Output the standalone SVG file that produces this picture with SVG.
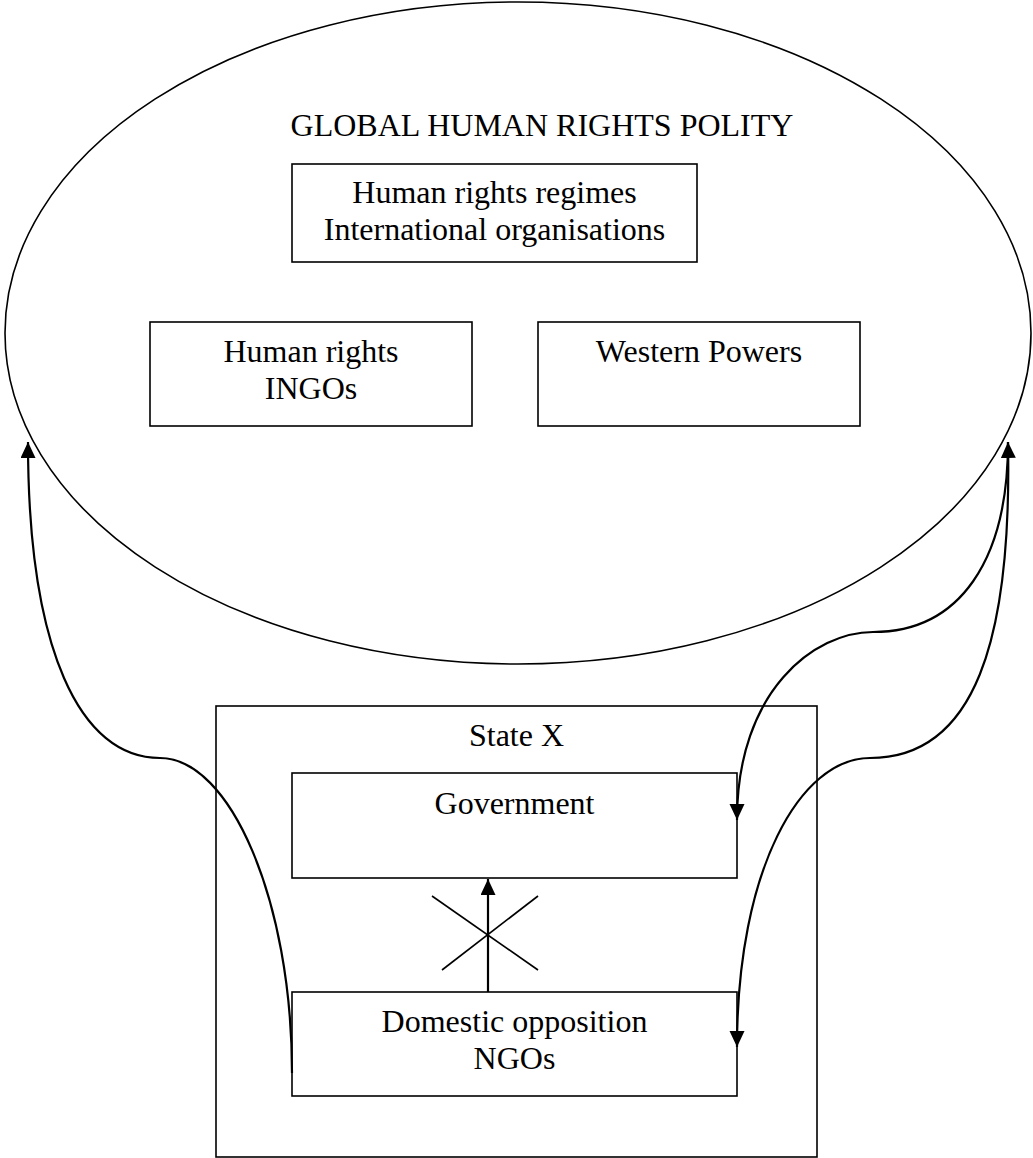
<svg xmlns="http://www.w3.org/2000/svg" width="1033" height="1158" viewBox="0 0 1033 1158">
<style>
.box{fill:#fff;stroke:#000;stroke-width:1.6}
.lbl{font-family:"Liberation Serif","Times New Roman",serif;font-size:32px;fill:#000;text-anchor:middle}
.con{fill:none;stroke:#000;stroke-width:2.2}
.thin{fill:none;stroke:#000;stroke-width:1.6}
</style>
<defs>
<marker id="ah" markerUnits="userSpaceOnUse" markerWidth="18" markerHeight="18" refX="16" refY="7.5" orient="auto-start-reverse">
<path d="M0,0 L16,7.5 L0,15 z" fill="#000"/>
</marker>
</defs>
<rect width="1033" height="1158" fill="#fff"/>
<g id="global-polity">
<ellipse cx="518" cy="333" rx="513" ry="331" class="thin"/>
<text x="542" y="136" class="lbl">GLOBAL HUMAN RIGHTS POLITY</text>
</g>
<g id="regimes">
<rect x="292" y="164" width="405" height="98" class="box"/>
<text x="494.5" y="203" class="lbl">Human rights regimes</text>
<text x="494.5" y="240" class="lbl">International organisations</text>
</g>
<g id="ingos">
<rect x="150" y="322" width="322" height="104" class="box"/>
<text x="311" y="362" class="lbl">Human rights</text>
<text x="311" y="399" class="lbl">INGOs</text>
</g>
<g id="western">
<rect x="538" y="322" width="322" height="104" class="box"/>
<text x="699" y="362" class="lbl">Western Powers</text>
</g>
<g id="state-x">
<rect x="216" y="706" width="601" height="451" class="box"/>
<text x="516.5" y="746" class="lbl">State X</text>
</g>
<g id="government">
<rect x="292" y="773" width="445" height="105" class="box"/>
<text x="514.5" y="814" class="lbl">Government</text>
</g>
<g id="domestic">
<rect x="292" y="992" width="445" height="104" class="box"/>
<text x="514.5" y="1032" class="lbl">Domestic opposition</text>
<text x="514.5" y="1069" class="lbl">NGOs</text>
</g>
<g id="connectors">
<path class="con" d="M292,1073 C292,900 230,758 160,758 C80,758 28,650 28,442" marker-end="url(#ah)"/>
<path class="con" d="M1008,442 C1008,560 960,632 873,632 C815,632 737,690 737,820" marker-end="url(#ah)"/>
<path class="con" d="M1008,442 C1012,640 975,758 870,758 C800,758 737,870 737,1047" marker-start="url(#ah)" marker-end="url(#ah)"/>
<path class="con" d="M488,992 L488,879" marker-end="url(#ah)"/>
<line x1="432" y1="896" x2="538" y2="970" class="thin"/>
<line x1="442" y1="970" x2="538" y2="896" class="thin"/>
</g>
</svg>
